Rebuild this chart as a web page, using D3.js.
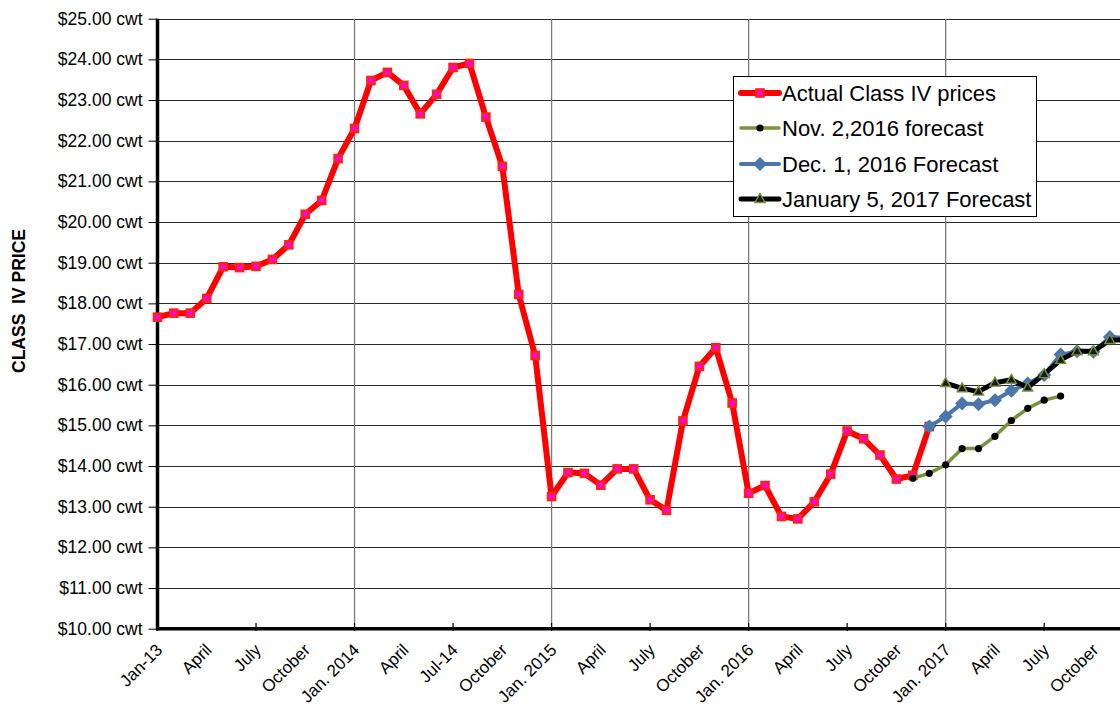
<!DOCTYPE html>
<html><head><meta charset="utf-8">
<script src="https://cdn.jsdelivr.net/npm/d3@7"></script>
<style>
html,body{margin:0;padding:0;background:#fff;overflow:hidden}
text{font-family:"Liberation Sans",Arial,sans-serif;fill:#000}
</style></head>
<body><svg id="c" width="1120" height="709"></svg>
<script>
// Month index 0 = Jan 2013
const actualStart = 0;
const actual = [17.66,17.76,17.76,18.12,18.90,18.88,18.91,19.08,19.44,20.19,20.53,21.56,
  22.30,23.48,23.68,23.36,22.66,23.14,23.80,23.90,22.58,21.37,18.22,16.72,
  13.25,13.84,13.82,13.53,13.93,13.93,13.17,12.91,15.11,16.45,16.91,15.55,
  13.33,13.52,12.76,12.70,13.12,13.80,14.86,14.67,14.27,13.68,13.77,14.97];
const novStart = 46;
const novForecast = [13.70,13.82,14.03,14.43,14.43,14.73,15.12,15.42,15.62,15.72];
const decStart = 47;
const decForecast = [14.97,15.22,15.54,15.52,15.62,15.85,16.03,16.24,16.74,16.82,16.81,17.17,17.15];
const janStart = 48;
const janForecast = [16.04,15.91,15.83,16.05,16.12,15.93,16.26,16.61,16.82,16.82,17.10,17.10];
const xLabels = ["Jan-13","April","July","October","Jan. 2014","April","Jul-14","October",
  "Jan. 2015","April","July","October","Jan. 2016","April","July","October",
  "Jan. 2017","April","July","October"];
const yTicks = [10,11,12,13,14,15,16,17,18,19,20,21,22,23,24,25];
const legendNames = ["Actual Class IV prices","Nov. 2,2016 forecast","Dec. 1, 2016 Forecast","January 5, 2017 Forecast"];

const svg = d3.select("#c");
const x = d3.scaleLinear().domain([0,60]).range([157.5, 157.5+60*16.42]);
const y = d3.scaleLinear().domain([10,25]).range([628.7,18.7]);
const toPts = (arr,start)=>arr.map((v,i)=>({m:start+i,v}));

// horizontal gridlines
svg.append("g").selectAll("line").data(yTicks.filter(d=>d>10)).join("line")
  .attr("x1",x(0)).attr("x2",1120).attr("y1",d=>Math.round(y(d))+0.5).attr("y2",d=>Math.round(y(d))+0.5)
  .attr("stroke","#2a2a2a").attr("stroke-width",1.2);
// vertical gridlines at each January
svg.append("g").selectAll("line").data([12,24,36,48,60]).join("line")
  .attr("x1",d=>x(d)).attr("x2",d=>x(d)).attr("y1",y(25)).attr("y2",y(10))
  .attr("stroke","#7a7a7a").attr("stroke-width",1.3);

// y axis
const yAxis = d3.axisLeft(y).tickValues(yTicks).tickSize(9).tickPadding(6)
  .tickFormat(d=>"$"+d.toFixed(2)+" cwt");
const gy = svg.append("g").attr("transform",`translate(${x(0)},0)`).call(yAxis);
gy.select(".domain").remove();
gy.selectAll("line").attr("stroke","#000").attr("stroke-width",1);
gy.selectAll("text").style("font-size","17.5px").attr("fill","#000");

// x axis labels
const gx = svg.append("g");
gx.selectAll("text").data(xLabels).join("text")
  .attr("transform",(d,i)=>`translate(${x(i*3)+6},${651}) rotate(-45)`)
  .attr("text-anchor","end").style("font-size","17px").text(d=>d);
// x ticks every 6 months
gx.selectAll("line").data(d3.range(0,61,6)).join("line")
  .attr("x1",d=>x(d)).attr("x2",d=>x(d)).attr("y1",623).attr("y2",631)
  .attr("stroke","#000").attr("stroke-width",1.2);

// axis lines
svg.append("line").attr("x1",x(0)).attr("x2",x(0)).attr("y1",y(25)).attr("y2",y(10)+1.5)
  .attr("stroke","#000").attr("stroke-width",3.5);
svg.append("line").attr("x1",x(0)-1.5).attr("x2",1120).attr("y1",y(10)).attr("y2",y(10))
  .attr("stroke","#000").attr("stroke-width",3.5);

// y title
svg.append("text").attr("transform","translate(25,301) rotate(-90)").attr("text-anchor","middle")
  .style("font-size","17.5px").style("font-weight","bold").attr("xml:space","preserve")
  .text("CLASS  IV PRICE");

const line = d3.line().x(d=>x(d.m)).y(d=>y(d.v));
const green="#77933C", blue="#4A76AB", red="#FF0000", mag="#FF00FF";

function drawSeries(g, pts, cfg){
  g.append("path").datum(pts).attr("d",line).attr("fill","none")
    .attr("stroke",cfg.color).attr("stroke-width",cfg.w)
    .attr("stroke-linejoin","round").attr("stroke-linecap","round");
  const mk = g.append("g");
  pts.forEach(p=>cfg.marker(mk,x(p.m),y(p.v)));
}
const sq=(g,cx,cy)=>g.append("rect").attr("x",cx-3.5).attr("y",cy-3.5).attr("width",7).attr("height",7)
  .attr("fill",mag).attr("stroke","#ff2020").attr("stroke-width",2.6);
const dot=(g,cx,cy)=>g.append("circle").attr("cx",cx).attr("cy",cy).attr("r",3.6).attr("fill","#000");
const dia=(g,cx,cy)=>g.append("path").attr("d",`M${cx},${cy-7}L${cx+7},${cy}L${cx},${cy+7}L${cx-7},${cy}Z`).attr("fill",blue);
const tri=(g,cx,cy)=>g.append("path").attr("d",`M${cx},${cy-5.5}L${cx+5},${cy+3.5}L${cx-5},${cy+3.5}Z`)
  .attr("fill","#1a1a1a").attr("stroke",green).attr("stroke-width",1.4);

const series = [
  {pts:toPts(actual,actualStart),color:red,w:6,marker:sq},
  {pts:toPts(novForecast,novStart),color:green,w:3.5,marker:dot},
  {pts:toPts(decForecast,decStart),color:blue,w:4,marker:dia},
  {pts:toPts(janForecast,janStart),color:"#000",w:5,marker:tri}
];
const plot = svg.append("g");
series.forEach(s=>drawSeries(plot.append("g"),s.pts,s));

// legend
const lg = svg.append("g");
lg.append("rect").attr("x",733.5).attr("y",76.5).attr("width",303).attr("height",140)
  .attr("fill","#fff").attr("stroke","#000").attr("stroke-width",1);
const rowY=[93,128,164,199];
series.forEach((s,i)=>{
  lg.append("line").attr("x1",741).attr("x2",779).attr("y1",rowY[i]).attr("y2",rowY[i])
    .attr("stroke",s.color).attr("stroke-width",s.w).attr("stroke-linecap","round");
  s.marker(lg,760,rowY[i]);
  lg.append("text").attr("x",782).attr("y",rowY[i]+8).style("font-size","22px").text(legendNames[i]);
});
</script></body></html>
